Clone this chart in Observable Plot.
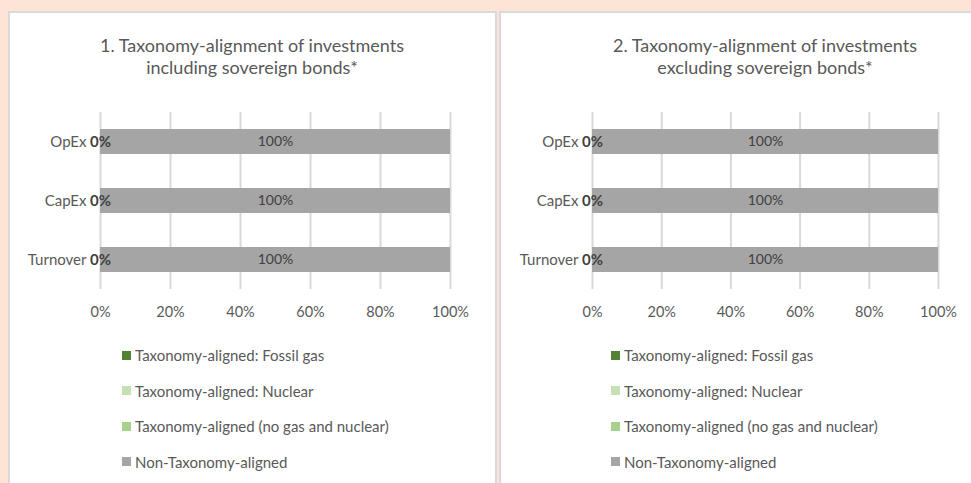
<!DOCTYPE html>
<html><head><meta charset="utf-8">
<script src="https://cdn.jsdelivr.net/npm/d3@7"></script>
<script src="https://cdn.jsdelivr.net/npm/@observablehq/plot@0.6"></script>
<style>
html,body{margin:0;padding:0;}
body{background:#fce4d6;width:971px;height:483px;overflow:hidden;position:relative;font-family:Lato,"Open Sans",sans-serif;}
.panel{position:absolute;top:11px;height:520px;background:#fff;border:2px solid #d9d9d9;box-sizing:border-box;}
.title{position:absolute;width:440px;text-align:center;font-size:18px;line-height:22px;color:#595959;}
.chart{position:absolute;top:100px;}
.leg{position:absolute;font-size:15px;line-height:16px;color:#595959;white-space:nowrap;display:flex;align-items:center;}
.sw{display:inline-block;width:9px;height:9px;margin-right:4px;}
</style></head>
<body>
<div class="panel" style="left:8px;width:489px"></div>
<div class="panel" style="left:499px;width:540px"></div>
<div id="root"></div>
<script>
const categories = ["OpEx", "CapEx", "Turnover"];
const seriesNames = ["Taxonomy-aligned: Fossil gas", "Taxonomy-aligned: Nuclear", "Taxonomy-aligned (no gas and nuclear)", "Non-Taxonomy-aligned"];
const seriesColors = ["#548235", "#c5e0b4", "#a9d18e", "#a5a5a5"];
const xTicks = [0, 20, 40, 60, 80, 100];
const titles1 = ["1. Taxonomy-alignment of investments", "including sovereign bonds*"];
const titles2 = ["2. Taxonomy-alignment of investments", "excluding sovereign bonds*"];
// values per category (OpEx, CapEx, Turnover), in %
const inclFossilGas = [0, 0, 0];
const inclNuclear = [0, 0, 0];
const inclAligned = [0, 0, 0];
const inclNonAligned = [100, 100, 100];
const exclFossilGas = [0, 0, 0];
const exclNuclear = [0, 0, 0];
const exclAligned = [0, 0, 0];
const exclNonAligned = [100, 100, 100];

const root = document.getElementById("root");
const FONT = "Lato, 'Open Sans', sans-serif";

function rowsOf(series) {
  const rows = [];
  categories.forEach((c, i) => {
    series.forEach((vals, j) => rows.push({cat: c, series: seriesNames[j], value: vals[i]}));
  });
  return rows;
}

function makePanel(rows, titles, opt) {
  const non = seriesNames[3];
  const aligned = seriesNames[2];
  const stackOpts = {x: "value", y: "cat", z: "series", order: seriesNames};
  const chart = Plot.plot({
    width: opt.width, height: 229,
    marginLeft: 92, marginRight: opt.marginRight, marginTop: 12, marginBottom: 40,
    style: {fontFamily: FONT, fontSize: "15px", color: "#595959", background: "transparent", overflow: "visible"},
    x: {domain: [0, 100]},
    y: {domain: categories, paddingInner: 0.576, paddingOuter: 0.288},
    color: {domain: seriesNames, range: seriesColors},
    marks: [
      Plot.gridX(xTicks, {stroke: "#d9d9d9", strokeOpacity: 1, strokeWidth: 2}),
      Plot.barX(rows, Plot.stackX({...stackOpts, fill: "series"})),
      Plot.textX(rows, Plot.stackX({...stackOpts, text: d => d.series === non ? d.value + "%" : "", fill: "#404040", fontSize: 14})),
      Plot.textX(rows, Plot.stackX({...stackOpts, text: d => d.series === aligned ? d.value + "%" : "", fill: "#404040", fontSize: 15, fontWeight: "bold"})),
      Plot.axisX(xTicks, {tickSize: 0, tickPadding: 17, tickFormat: d => d + "%", fill: "#595959", fontSize: 14.5, label: null}),
      Plot.axisY({tickSize: 0, tickPadding: 14, fill: "#595959", fontSize: 15, label: null})
    ]
  });
  chart.classList.add("chart");
  chart.style.left = opt.left + "px";
  root.appendChild(chart);

  const t = document.createElement("div");
  t.className = "title";
  t.style.left = (opt.titleCenter - 220) + "px";
  t.style.top = "34px";
  t.innerHTML = titles.join("<br>");
  root.appendChild(t);

  const ys = [355, 390.5, 426, 461.5];
  seriesNames.forEach((s, j) => {
    const d = document.createElement("div");
    d.className = "leg";
    d.style.left = opt.legendLeft + "px";
    d.style.top = (ys[j] - 8) + "px";
    const sw = document.createElement("span");
    sw.className = "sw";
    sw.style.background = seriesColors[j];
    d.appendChild(sw);
    d.appendChild(document.createTextNode(s));
    root.appendChild(d);
  });
}

makePanel(rowsOf([inclFossilGas, inclNuclear, inclAligned, inclNonAligned]), titles1,
  {left: 8, width: 489, marginRight: 47, titleCenter: 252, legendLeft: 122});
makePanel(rowsOf([exclFossilGas, exclNuclear, exclAligned, exclNonAligned]), titles2,
  {left: 500, width: 478, marginRight: 40, titleCenter: 765, legendLeft: 611});
</script>
</body></html>
